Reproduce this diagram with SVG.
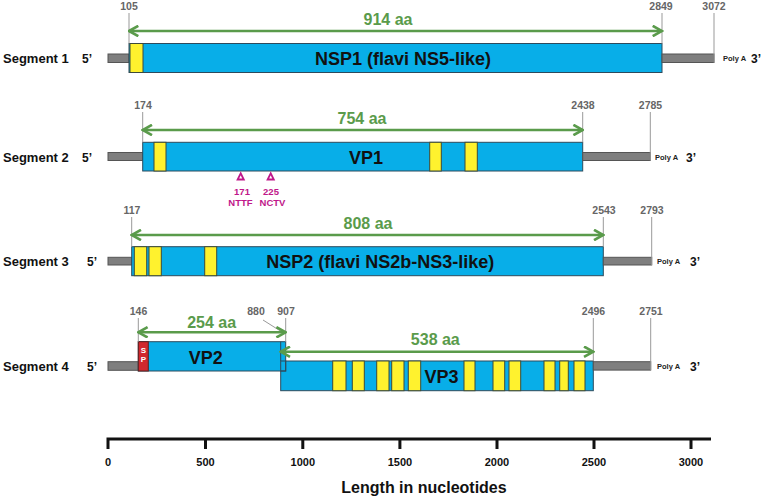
<svg xmlns="http://www.w3.org/2000/svg" width="768" height="497" viewBox="0 0 768 497">
<defs>
<marker id="ah" markerUnits="userSpaceOnUse" viewBox="0 0 12 12" markerWidth="12" markerHeight="12" refX="10.5" refY="6" orient="auto-start-reverse"><path d="M1.2,0.8 L10.5,6 L1.2,11.2" fill="none" stroke="#5a9b4b" stroke-width="2.6"/></marker>
<style>
text{font-family:"Liberation Sans",Arial,sans-serif}
.seg{font-size:13px;font-weight:bold;fill:#111}
.end{font-size:12px;font-weight:bold;fill:#111}
.poly{font-size:7.5px;font-weight:bold;fill:#222}
.num{font-size:10.5px;font-weight:bold;fill:#666;text-anchor:middle}
.aa{font-size:16px;font-weight:bold;fill:#5a9b4b;text-anchor:middle}
.prot{font-size:18px;font-weight:bold;fill:#111;text-anchor:middle}
.orf{fill:#08aee8;stroke:#2d4a5c;stroke-width:1}
.yel{fill:#fff22e;stroke:#3d4a3a;stroke-width:1}
.utr{fill:#7f7f7f;stroke:#555;stroke-width:1}
.tick{stroke:#999;stroke-width:1;fill:none}
.arr{stroke:#5a9b4b;stroke-width:2.6;fill:none;marker-start:url(#ah);marker-end:url(#ah)}
.glyc{fill:none;stroke:#c0178a;stroke-width:1.8}
.gl{font-size:9.5px;font-weight:bold;fill:#c0178a;text-anchor:middle}
.ax{stroke:#111;stroke-width:3;fill:none}
.axl{font-size:11px;font-weight:bold;fill:#111;text-anchor:middle}
</style>
</defs>
<rect width="768" height="497" fill="#fff"/>

<g id="segment1">
<text class="seg" x="3" y="63">Segment 1</text>
<text class="end" x="82" y="63">5’</text>
<rect class="utr" x="108" y="54" width="21" height="8.5"/>
<rect class="orf" x="129" y="43.5" width="533" height="29"/>
<rect class="yel" x="130" y="43.5" width="13" height="29"/>
<text class="prot" x="403" y="65">NSP1 (flavi NS5-like)</text>
<rect class="utr" x="662" y="54" width="52" height="8.5"/>
<text class="poly" x="723" y="61">Poly A</text>
<text class="end" x="751" y="63">3’</text>
<text class="num" x="129" y="9.5">105</text>
<text class="num" x="661" y="9.5">2849</text>
<text class="num" x="714" y="9.5">3072</text>
</g>

<g id="segment2">
<text class="seg" x="3" y="162">Segment 2</text>
<text class="end" x="82" y="162">5’</text>
<rect class="utr" x="108" y="152.5" width="34.7" height="8"/>
<rect class="orf" x="142.7" y="142.3" width="440" height="28.7"/>
<rect class="yel" x="154" y="142.3" width="12" height="28.7"/>
<rect class="yel" x="429.7" y="142.3" width="11.6" height="28.7"/>
<rect class="yel" x="465" y="142.3" width="12.3" height="28.7"/>
<text class="prot" x="366" y="164">VP1</text>
<rect class="utr" x="582.7" y="152.5" width="67.6" height="8"/>
<text class="poly" x="655" y="159.5">Poly A</text>
<text class="end" x="686" y="161.5">3’</text>
<text class="num" x="143" y="108.5">174</text>
<text class="num" x="583" y="108.5">2438</text>
<text class="num" x="650.5" y="108.5">2785</text>
<path class="glyc" d="M240.7,173.3 L237.6,179.5 L243.8,179.5 Z"/>
<path class="glyc" d="M270.7,173.3 L267.6,179.5 L273.8,179.5 Z"/>
<text class="gl" x="242" y="195">171</text>
<text class="gl" x="240.5" y="205.5">NTTF</text>
<text class="gl" x="271" y="195">225</text>
<text class="gl" x="272.5" y="205.5">NCTV</text>
</g>

<g id="segment3">
<text class="seg" x="3" y="266">Segment 3</text>
<text class="end" x="87" y="266">5’</text>
<rect class="utr" x="108" y="257.3" width="23.7" height="7.7"/>
<rect class="orf" x="131.7" y="246.7" width="471.6" height="29"/>
<rect class="yel" x="134.3" y="246.7" width="12.4" height="29"/>
<rect class="yel" x="149" y="246.7" width="12.3" height="29"/>
<rect class="yel" x="204.7" y="246.7" width="12" height="29"/>
<text class="prot" x="380.3" y="268">NSP2 (flavi NS2b-NS3-like)</text>
<rect class="utr" x="603.3" y="257.3" width="48.4" height="7.7"/>
<text class="poly" x="657" y="264">Poly A</text>
<text class="end" x="690" y="266">3’</text>
<text class="num" x="132" y="213.5">117</text>
<text class="num" x="604" y="213.5">2543</text>
<text class="num" x="652" y="213.5">2793</text>
</g>

<g id="segment4">
<text class="seg" x="3" y="371">Segment 4</text>
<text class="end" x="87" y="371">5’</text>
<rect class="utr" x="108" y="361.7" width="30.3" height="8.6"/>
<rect class="orf" x="280.7" y="361" width="312.6" height="29.7"/>
<rect class="yel" x="332.7" y="361" width="13.3" height="29.7"/>
<rect class="yel" x="352.3" y="361" width="12" height="29.7"/>
<rect class="yel" x="376.7" y="361" width="12.3" height="29.7"/>
<rect class="yel" x="391.7" y="361" width="12.3" height="29.7"/>
<rect class="yel" x="408.3" y="361" width="12.4" height="29.7"/>
<rect class="yel" x="464" y="361" width="11" height="29.7"/>
<rect class="yel" x="493" y="361" width="11.7" height="29.7"/>
<rect class="yel" x="509" y="361" width="11.7" height="29.7"/>
<rect class="yel" x="544" y="361" width="11" height="29.7"/>
<rect class="yel" x="559.7" y="361" width="8.6" height="29.7"/>
<rect class="yel" x="574" y="361" width="11" height="29.7"/>
<text class="prot" x="441.5" y="383">VP3</text>
<rect class="orf" x="138.3" y="341.7" width="147.4" height="29.3"/>
<rect x="280.7" y="361" width="5" height="10" fill="none" stroke="#2d4a5c" stroke-width="1"/>
<line x1="280.7" y1="341.7" x2="280.7" y2="361" stroke="#2d4a5c" stroke-width="1"/>
<rect x="138.3" y="341.7" width="10" height="29.3" fill="#d0282e" stroke="#5a2020" stroke-width="1"/>
<text x="143.3" y="352.5" font-size="8" font-weight="bold" fill="#fff" text-anchor="middle">S</text>
<text x="143.3" y="362" font-size="8" font-weight="bold" fill="#fff" text-anchor="middle">P</text>
<text class="prot" x="205.8" y="363.5">VP2</text>
<rect class="utr" x="593.3" y="361.7" width="57.4" height="8.4"/>
<text class="poly" x="657" y="368.5">Poly A</text>
<text class="end" x="690" y="370.5">3’</text>
<text class="num" x="138.5" y="314.5">146</text>
<text class="num" x="256" y="314.5">880</text>
<text class="num" x="286" y="314.5">907</text>
<text class="num" x="593.5" y="314.5">2496</text>
<text class="num" x="651" y="314.5">2751</text>
</g>

<g id="connectors">
<path class="tick" d="M129,13V43.5 M662,13V43.5 M714,13V62.5"/>
<path class="tick" d="M142.7,112V142.3 M582.7,112V142.3 M650.3,112V160.5"/>
<path class="tick" d="M131.7,217V246.7 M603.3,217V246.7 M651.7,217V265"/>
<path class="tick" d="M138.3,318V341.7 M285.7,318V341.7 M593.3,318V361 M650.7,318V370 M263,320 L282,332"/>
<line class="arr" x1="129" y1="31" x2="662" y2="31"/>
<line class="arr" x1="142.7" y1="130" x2="582.7" y2="130"/>
<line class="arr" x1="131.7" y1="235" x2="603.3" y2="235"/>
<line class="arr" x1="138.3" y1="332.3" x2="285.7" y2="332.3"/>
<line class="arr" x1="280.7" y1="351.7" x2="593.3" y2="351.7"/>
<text class="aa" x="388" y="24.5">914 aa</text>
<text class="aa" x="362" y="123.5">754 aa</text>
<text class="aa" x="368" y="228.5">808 aa</text>
<text class="aa" x="211.7" y="327.5">254 aa</text>
<text class="aa" x="435.3" y="345">538 aa</text>
</g>

<g id="axis">
<path class="ax" d="M108,439H711 M108,437.5V449 M205.5,439V449 M302.8,439V449 M399.9,439V449 M497,439V449 M594,439V449 M691,439V449"/>
<text class="axl" x="108" y="466">0</text>
<text class="axl" x="205.5" y="466">500</text>
<text class="axl" x="302.8" y="466">1000</text>
<text class="axl" x="399.9" y="466">1500</text>
<text class="axl" x="497" y="466">2000</text>
<text class="axl" x="594" y="466">2500</text>
<text class="axl" x="691" y="466">3000</text>
<text x="424" y="493" font-size="16" font-weight="bold" fill="#111" text-anchor="middle">Length in nucleotides</text>
</g>
</svg>
